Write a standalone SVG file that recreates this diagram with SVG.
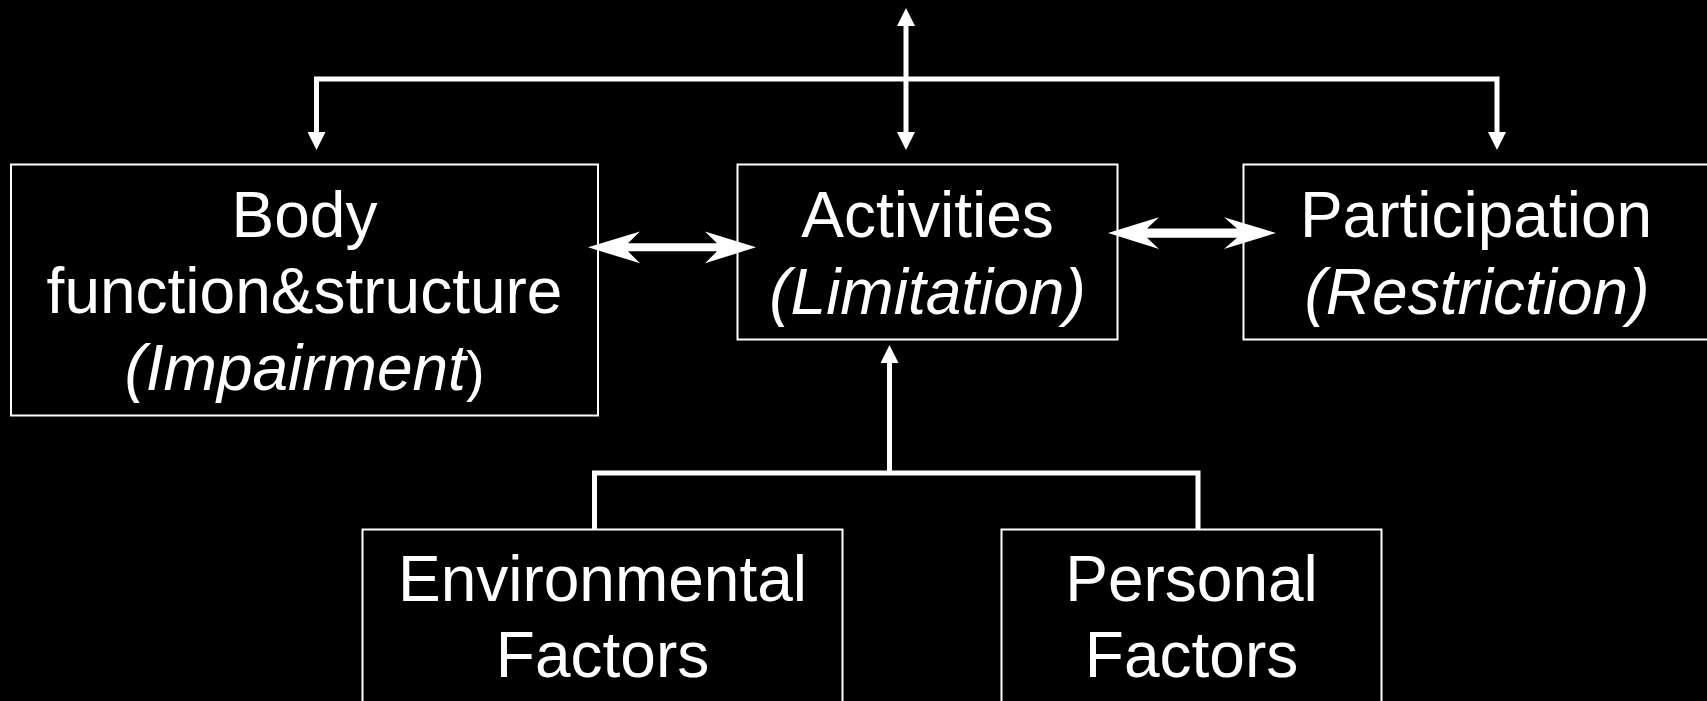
<svg xmlns="http://www.w3.org/2000/svg" width="1707" height="701" viewBox="0 0 1707 701">
<style>
.box{fill:#000;stroke:#fff;stroke-width:2}
.t{font-family:"Liberation Sans",Arial,sans-serif;font-size:64px;fill:#fff;text-anchor:middle}
.i{font-style:italic}
.n{font-style:normal;font-size:56px}
.ln{fill:none;stroke:#fff;stroke-width:5}
.blk{fill:#fff;stroke:none}
</style>
<defs>
<marker id="ah" markerUnits="userSpaceOnUse" markerWidth="18" markerHeight="18" viewBox="0 0 18 18" refX="0" refY="9" orient="auto-start-reverse">
<path d="M0,0 L18,9 L0,18 Z" fill="#fff"/>
</marker>
</defs>
<rect x="0" y="0" width="1707" height="701" fill="#000"/>

<g id="body">
<rect class="box" x="11" y="164.5" width="587" height="251"/>
<text class="t" x="304.5" y="237">Body</text>
<text class="t" x="304.5" y="313">function&amp;structure</text>
<text class="t i" x="304.5" y="390">(Impairment<tspan class="n">)</tspan></text>
</g>

<g id="activities">
<rect class="box" x="737.5" y="164.5" width="380" height="175"/>
<text class="t" x="927.5" y="237">Activities</text>
<text class="t i" x="927.5" y="314">(Limitation)</text>
</g>

<g id="participation">
<rect class="box" x="1243.5" y="164.5" width="470" height="175"/>
<text class="t" x="1476" y="237">Participation</text>
<text class="t i" x="1477" y="314">(Restriction)</text>
</g>

<g id="environmental">
<rect class="box" x="362.5" y="529.5" width="480" height="190"/>
<text class="t" x="602.5" y="601">Environmental</text>
<text class="t" x="602.5" y="677">Factors</text>
</g>

<g id="personal">
<rect class="box" x="1001.5" y="529.5" width="380" height="190"/>
<text class="t" x="1191.5" y="601">Personal</text>
<text class="t" x="1191.5" y="677">Factors</text>
</g>

<g id="connectors">
<path class="ln" d="M316.5,132 V79 H1497 V132" marker-start="url(#ah)" marker-end="url(#ah)"/>
<path class="ln" d="M906,26 V132" marker-start="url(#ah)" marker-end="url(#ah)"/>
<path class="ln" d="M594.5,529 V473 H1198 V529"/>
<path class="ln" d="M889.5,473 V363" marker-end="url(#ah)"/>
<polygon class="blk" points="588,247.3 640,231.5 628,243.3 717,243.3 705,231.5 756,247.3 705,263.3 717,251.3 628,251.3 640,263.3"/>
<polygon class="blk" points="1108,233 1159,217.3 1147,228.5 1237,228.5 1224,217.3 1276,233 1224,249 1237,237.7 1147,237.7 1159,249"/>
</g>
</svg>
